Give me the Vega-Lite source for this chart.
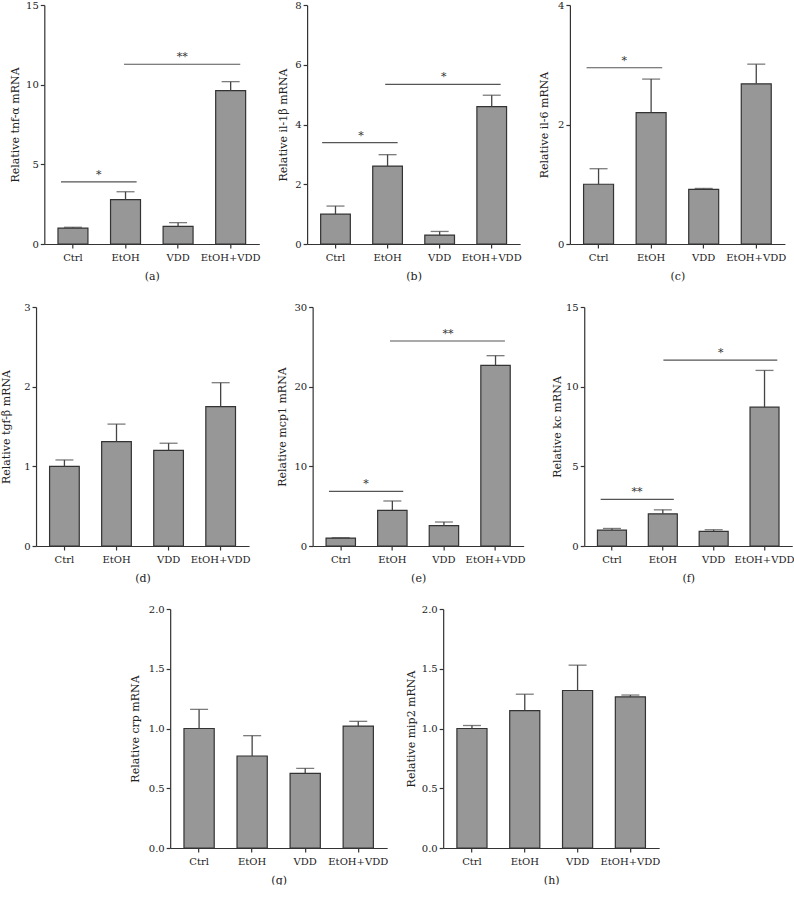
{
  "$schema": "https://vega.github.io/schema/vega-lite/v6.json",
  "background": "white",
  "padding": {"left": 0, "top": 0, "right": 0, "bottom": 0},
  "datasets": {
    "bars": [
      {"panel": "a", "group": "Ctrl", "mean": 1.0, "upper": 1.05},
      {"panel": "a", "group": "EtOH", "mean": 2.78, "upper": 3.28},
      {"panel": "a", "group": "VDD", "mean": 1.1, "upper": 1.34},
      {"panel": "a", "group": "EtOH+VDD", "mean": 9.62, "upper": 10.19},
      {"panel": "b", "group": "Ctrl", "mean": 1.0, "upper": 1.27},
      {"panel": "b", "group": "EtOH", "mean": 2.61, "upper": 2.99},
      {"panel": "b", "group": "VDD", "mean": 0.3, "upper": 0.42},
      {"panel": "b", "group": "EtOH+VDD", "mean": 4.6, "upper": 4.98},
      {"panel": "c", "group": "Ctrl", "mean": 1.0, "upper": 1.26},
      {"panel": "c", "group": "EtOH", "mean": 2.2, "upper": 2.76},
      {"panel": "c", "group": "VDD", "mean": 0.915, "upper": 0.93},
      {"panel": "c", "group": "EtOH+VDD", "mean": 2.68, "upper": 3.01},
      {"panel": "d", "group": "Ctrl", "mean": 1.0, "upper": 1.08},
      {"panel": "d", "group": "EtOH", "mean": 1.31, "upper": 1.53},
      {"panel": "d", "group": "VDD", "mean": 1.2, "upper": 1.29},
      {"panel": "d", "group": "EtOH+VDD", "mean": 1.75, "upper": 2.05},
      {"panel": "e", "group": "Ctrl", "mean": 1.0, "upper": 1.05},
      {"panel": "e", "group": "EtOH", "mean": 4.48, "upper": 5.65},
      {"panel": "e", "group": "VDD", "mean": 2.55, "upper": 3.01},
      {"panel": "e", "group": "EtOH+VDD", "mean": 22.68, "upper": 23.89},
      {"panel": "f", "group": "Ctrl", "mean": 1.0, "upper": 1.1},
      {"panel": "f", "group": "EtOH", "mean": 2.02, "upper": 2.27},
      {"panel": "f", "group": "VDD", "mean": 0.92, "upper": 1.02},
      {"panel": "f", "group": "EtOH+VDD", "mean": 8.71, "upper": 11.02},
      {"panel": "g", "group": "Ctrl", "mean": 1.0, "upper": 1.16},
      {"panel": "g", "group": "EtOH", "mean": 0.77, "upper": 0.94},
      {"panel": "g", "group": "VDD", "mean": 0.625, "upper": 0.667},
      {"panel": "g", "group": "EtOH+VDD", "mean": 1.02, "upper": 1.06},
      {"panel": "h", "group": "Ctrl", "mean": 1.0, "upper": 1.025},
      {"panel": "h", "group": "EtOH", "mean": 1.15, "upper": 1.287},
      {"panel": "h", "group": "VDD", "mean": 1.318, "upper": 1.53},
      {"panel": "h", "group": "EtOH+VDD", "mean": 1.265, "upper": 1.28}
    ],
    "sig": [
      {"panel": "a", "type": "near", "from": "Ctrl", "to": "EtOH", "y": 3.9, "label": "*"},
      {"panel": "a", "type": "far", "from": "EtOH", "to": "EtOH+VDD", "y": 11.28, "label": "**"},
      {"panel": "b", "type": "near", "from": "Ctrl", "to": "EtOH", "y": 3.39, "label": "*"},
      {"panel": "b", "type": "far", "from": "EtOH", "to": "EtOH+VDD", "y": 5.34, "label": "*"},
      {"panel": "c", "type": "near", "from": "Ctrl", "to": "EtOH", "y": 2.95, "label": "*"},
      {"panel": "e", "type": "near", "from": "Ctrl", "to": "EtOH", "y": 6.86, "label": "*"},
      {"panel": "e", "type": "far", "from": "EtOH", "to": "EtOH+VDD", "y": 25.73, "label": "**"},
      {"panel": "f", "type": "near", "from": "Ctrl", "to": "EtOH", "y": 2.92, "label": "**"},
      {"panel": "f", "type": "far", "from": "EtOH", "to": "EtOH+VDD", "y": 11.67, "label": "*"}
    ]
  },
  "spacing": 21,
  "center": true,
  "vconcat": [
    {
      "spacing": 16.8,
      "hconcat": [
        {
          "width": 215, "height": 239,
          "data": {"name": "bars"},
          "transform": [{"filter": "datum.panel == 'a'"}],
          "encoding": {"x": {"field": "group", "type": "nominal", "scale": {"domain": ["Ctrl", "EtOH", "VDD", "EtOH+VDD"], "paddingInner": 0.43, "paddingOuter": 0.26}, "axis": {"title": "(a)", "labelAngle": 0}}},
          "layer": [
            {"mark": {"type": "bar", "fill": "#979797", "stroke": "#333333", "strokeWidth": 1.2},
             "encoding": {"y": {"field": "mean", "type": "quantitative", "scale": {"domain": [0, 15], "nice": false}, "axis": {"values": [0, 5, 10, 15], "format": "d", "titlePadding": 5, "title": "Relative tnf-α mRNA"}}}},
            {"mark": {"type": "rule", "stroke": "#444444", "strokeWidth": 1.3},
             "encoding": {"y": {"field": "mean", "type": "quantitative"}, "y2": {"field": "upper"}}},
            {"mark": {"type": "tick", "color": "#444444", "size": 18, "thickness": 1.3},
             "encoding": {"y": {"field": "upper", "type": "quantitative"}}},
            {"data": {"name": "sig"}, "transform": [{"filter": "datum.panel == 'a' && datum.type == 'near'"}],
             "mark": {"type": "rule", "stroke": "#555555", "strokeWidth": 1.2},
             "encoding": {"x": {"field": "from", "type": "nominal", "bandPosition": 0.1}, "x2": {"field": "to", "bandPosition": 0.87}, "y": {"field": "y", "type": "quantitative"}}},
            {"data": {"name": "sig"}, "transform": [{"filter": "datum.panel == 'a' && datum.type == 'near'"}],
             "mark": {"type": "text", "font": "DejaVu Serif", "fontSize": 11, "dy": -4, "baseline": "alphabetic", "fill": "#333333"},
             "encoding": {"x": {"field": "from", "type": "nominal", "bandPosition": 1.36}, "y": {"field": "y", "type": "quantitative"}, "text": {"field": "label"}}},
            {"data": {"name": "sig"}, "transform": [{"filter": "datum.panel == 'a' && datum.type == 'far'"}],
             "mark": {"type": "rule", "stroke": "#555555", "strokeWidth": 1.2},
             "encoding": {"x": {"field": "from", "type": "nominal", "bandPosition": 0.45}, "x2": {"field": "to", "bandPosition": 0.82}, "y": {"field": "y", "type": "quantitative"}}},
            {"data": {"name": "sig"}, "transform": [{"filter": "datum.panel == 'a' && datum.type == 'far'"}],
             "mark": {"type": "text", "font": "DejaVu Serif", "fontSize": 11, "dy": -4, "baseline": "alphabetic", "fill": "#333333"},
             "encoding": {"x": {"field": "from", "type": "nominal", "bandPosition": 2.39}, "y": {"field": "y", "type": "quantitative"}, "text": {"field": "label"}}}
          ]
        },
        {
          "width": 213, "height": 239,
          "data": {"name": "bars"},
          "transform": [{"filter": "datum.panel == 'b'"}],
          "encoding": {"x": {"field": "group", "type": "nominal", "scale": {"domain": ["Ctrl", "EtOH", "VDD", "EtOH+VDD"], "paddingInner": 0.43, "paddingOuter": 0.26}, "axis": {"title": "(b)", "labelAngle": 0}}},
          "layer": [
            {"mark": {"type": "bar", "fill": "#979797", "stroke": "#333333", "strokeWidth": 1.2},
             "encoding": {"y": {"field": "mean", "type": "quantitative", "scale": {"domain": [0, 8], "nice": false}, "axis": {"values": [0, 2, 4, 6, 8], "format": "d", "titlePadding": 6, "title": "Relative il-1β mRNA"}}}},
            {"mark": {"type": "rule", "stroke": "#444444", "strokeWidth": 1.3},
             "encoding": {"y": {"field": "mean", "type": "quantitative"}, "y2": {"field": "upper"}}},
            {"mark": {"type": "tick", "color": "#444444", "size": 18, "thickness": 1.3},
             "encoding": {"y": {"field": "upper", "type": "quantitative"}}},
            {"data": {"name": "sig"}, "transform": [{"filter": "datum.panel == 'b' && datum.type == 'near'"}],
             "mark": {"type": "rule", "stroke": "#555555", "strokeWidth": 1.2},
             "encoding": {"x": {"field": "from", "type": "nominal", "bandPosition": 0.05}, "x2": {"field": "to", "bandPosition": 0.84}, "y": {"field": "y", "type": "quantitative"}}},
            {"data": {"name": "sig"}, "transform": [{"filter": "datum.panel == 'b' && datum.type == 'near'"}],
             "mark": {"type": "text", "font": "DejaVu Serif", "fontSize": 11, "dy": -4, "baseline": "alphabetic", "fill": "#333333"},
             "encoding": {"x": {"field": "from", "type": "nominal", "bandPosition": 1.36}, "y": {"field": "y", "type": "quantitative"}, "text": {"field": "label"}}},
            {"data": {"name": "sig"}, "transform": [{"filter": "datum.panel == 'b' && datum.type == 'far'"}],
             "mark": {"type": "rule", "stroke": "#555555", "strokeWidth": 1.2},
             "encoding": {"x": {"field": "from", "type": "nominal", "bandPosition": 0.42}, "x2": {"field": "to", "bandPosition": 0.8}, "y": {"field": "y", "type": "quantitative"}}},
            {"data": {"name": "sig"}, "transform": [{"filter": "datum.panel == 'b' && datum.type == 'far'"}],
             "mark": {"type": "text", "font": "DejaVu Serif", "fontSize": 11, "dy": -4, "baseline": "alphabetic", "fill": "#333333"},
             "encoding": {"x": {"field": "from", "type": "nominal", "bandPosition": 2.39}, "y": {"field": "y", "type": "quantitative"}, "text": {"field": "label"}}}
          ]
        },
        {
          "width": 215, "height": 239,
          "data": {"name": "bars"},
          "transform": [{"filter": "datum.panel == 'c'"}],
          "encoding": {"x": {"field": "group", "type": "nominal", "scale": {"domain": ["Ctrl", "EtOH", "VDD", "EtOH+VDD"], "paddingInner": 0.43, "paddingOuter": 0.26}, "axis": {"title": "(c)", "labelAngle": 0}}},
          "layer": [
            {"mark": {"type": "bar", "fill": "#979797", "stroke": "#333333", "strokeWidth": 1.2},
             "encoding": {"y": {"field": "mean", "type": "quantitative", "scale": {"domain": [0, 4], "nice": false}, "axis": {"values": [0, 2, 4], "format": "d", "titlePadding": 7.6, "title": "Relative il-6  mRNA"}}}},
            {"mark": {"type": "rule", "stroke": "#444444", "strokeWidth": 1.3},
             "encoding": {"y": {"field": "mean", "type": "quantitative"}, "y2": {"field": "upper"}}},
            {"mark": {"type": "tick", "color": "#444444", "size": 18, "thickness": 1.3},
             "encoding": {"y": {"field": "upper", "type": "quantitative"}}},
            {"data": {"name": "sig"}, "transform": [{"filter": "datum.panel == 'c' && datum.type == 'near'"}],
             "mark": {"type": "rule", "stroke": "#555555", "strokeWidth": 1.2},
             "encoding": {"x": {"field": "from", "type": "nominal", "bandPosition": 0.1}, "x2": {"field": "to", "bandPosition": 0.87}, "y": {"field": "y", "type": "quantitative"}}},
            {"data": {"name": "sig"}, "transform": [{"filter": "datum.panel == 'c' && datum.type == 'near'"}],
             "mark": {"type": "text", "font": "DejaVu Serif", "fontSize": 11, "dy": -4, "baseline": "alphabetic", "fill": "#333333"},
             "encoding": {"x": {"field": "from", "type": "nominal", "bandPosition": 1.36}, "y": {"field": "y", "type": "quantitative"}, "text": {"field": "label"}}}
          ]
        }
      ]
    },
    {
      "spacing": 25.6,
      "hconcat": [
        {
          "width": 213, "height": 239,
          "data": {"name": "bars"},
          "transform": [{"filter": "datum.panel == 'd'"}],
          "encoding": {"x": {"field": "group", "type": "nominal", "scale": {"domain": ["Ctrl", "EtOH", "VDD", "EtOH+VDD"], "paddingInner": 0.43, "paddingOuter": 0.26}, "axis": {"title": "(d)", "labelAngle": 0}}},
          "layer": [
            {"mark": {"type": "bar", "fill": "#979797", "stroke": "#333333", "strokeWidth": 1.2},
             "encoding": {"y": {"field": "mean", "type": "quantitative", "scale": {"domain": [0, 3], "nice": false}, "axis": {"values": [0, 1, 2, 3], "format": "d", "titlePadding": 12.5, "title": "Relative tgf-β mRNA"}}}},
            {"mark": {"type": "rule", "stroke": "#444444", "strokeWidth": 1.3},
             "encoding": {"y": {"field": "mean", "type": "quantitative"}, "y2": {"field": "upper"}}},
            {"mark": {"type": "tick", "color": "#444444", "size": 18, "thickness": 1.3},
             "encoding": {"y": {"field": "upper", "type": "quantitative"}}}
          ]
        },
        {
          "width": 211, "height": 239,
          "data": {"name": "bars"},
          "transform": [{"filter": "datum.panel == 'e'"}],
          "encoding": {"x": {"field": "group", "type": "nominal", "scale": {"domain": ["Ctrl", "EtOH", "VDD", "EtOH+VDD"], "paddingInner": 0.43, "paddingOuter": 0.26}, "axis": {"title": "(e)", "labelAngle": 0}}},
          "layer": [
            {"mark": {"type": "bar", "fill": "#979797", "stroke": "#333333", "strokeWidth": 1.2},
             "encoding": {"y": {"field": "mean", "type": "quantitative", "scale": {"domain": [0, 30], "nice": false}, "axis": {"values": [0, 10, 20, 30], "format": "d", "titlePadding": 6, "title": "Relative mcp1 mRNA"}}}},
            {"mark": {"type": "rule", "stroke": "#444444", "strokeWidth": 1.3},
             "encoding": {"y": {"field": "mean", "type": "quantitative"}, "y2": {"field": "upper"}}},
            {"mark": {"type": "tick", "color": "#444444", "size": 18, "thickness": 1.3},
             "encoding": {"y": {"field": "upper", "type": "quantitative"}}},
            {"data": {"name": "sig"}, "transform": [{"filter": "datum.panel == 'e' && datum.type == 'near'"}],
             "mark": {"type": "rule", "stroke": "#555555", "strokeWidth": 1.2},
             "encoding": {"x": {"field": "from", "type": "nominal", "bandPosition": 0.1}, "x2": {"field": "to", "bandPosition": 0.87}, "y": {"field": "y", "type": "quantitative"}}},
            {"data": {"name": "sig"}, "transform": [{"filter": "datum.panel == 'e' && datum.type == 'near'"}],
             "mark": {"type": "text", "font": "DejaVu Serif", "fontSize": 11, "dy": -4, "baseline": "alphabetic", "fill": "#333333"},
             "encoding": {"x": {"field": "from", "type": "nominal", "bandPosition": 1.36}, "y": {"field": "y", "type": "quantitative"}, "text": {"field": "label"}}},
            {"data": {"name": "sig"}, "transform": [{"filter": "datum.panel == 'e' && datum.type == 'far'"}],
             "mark": {"type": "rule", "stroke": "#555555", "strokeWidth": 1.2},
             "encoding": {"x": {"field": "from", "type": "nominal", "bandPosition": 0.42}, "x2": {"field": "to", "bandPosition": 0.82}, "y": {"field": "y", "type": "quantitative"}}},
            {"data": {"name": "sig"}, "transform": [{"filter": "datum.panel == 'e' && datum.type == 'far'"}],
             "mark": {"type": "text", "font": "DejaVu Serif", "fontSize": 11, "dy": -4, "baseline": "alphabetic", "fill": "#333333"},
             "encoding": {"x": {"field": "from", "type": "nominal", "bandPosition": 2.39}, "y": {"field": "y", "type": "quantitative"}, "text": {"field": "label"}}}
          ]
        },
        {
          "width": 208, "height": 239,
          "data": {"name": "bars"},
          "transform": [{"filter": "datum.panel == 'f'"}],
          "encoding": {"x": {"field": "group", "type": "nominal", "scale": {"domain": ["Ctrl", "EtOH", "VDD", "EtOH+VDD"], "paddingInner": 0.43, "paddingOuter": 0.26}, "axis": {"title": "(f)", "labelAngle": 0}}},
          "layer": [
            {"mark": {"type": "bar", "fill": "#979797", "stroke": "#333333", "strokeWidth": 1.2},
             "encoding": {"y": {"field": "mean", "type": "quantitative", "scale": {"domain": [0, 15], "nice": false}, "axis": {"values": [0, 5, 10, 15], "format": "d", "titlePadding": 2.8, "title": "Relative kc mRNA"}}}},
            {"mark": {"type": "rule", "stroke": "#444444", "strokeWidth": 1.3},
             "encoding": {"y": {"field": "mean", "type": "quantitative"}, "y2": {"field": "upper"}}},
            {"mark": {"type": "tick", "color": "#444444", "size": 18, "thickness": 1.3},
             "encoding": {"y": {"field": "upper", "type": "quantitative"}}},
            {"data": {"name": "sig"}, "transform": [{"filter": "datum.panel == 'f' && datum.type == 'near'"}],
             "mark": {"type": "rule", "stroke": "#555555", "strokeWidth": 1.2},
             "encoding": {"x": {"field": "from", "type": "nominal", "bandPosition": 0.11}, "x2": {"field": "to", "bandPosition": 0.88}, "y": {"field": "y", "type": "quantitative"}}},
            {"data": {"name": "sig"}, "transform": [{"filter": "datum.panel == 'f' && datum.type == 'near'"}],
             "mark": {"type": "text", "font": "DejaVu Serif", "fontSize": 11, "dy": -4, "baseline": "alphabetic", "fill": "#333333"},
             "encoding": {"x": {"field": "from", "type": "nominal", "bandPosition": 1.36}, "y": {"field": "y", "type": "quantitative"}, "text": {"field": "label"}}},
            {"data": {"name": "sig"}, "transform": [{"filter": "datum.panel == 'f' && datum.type == 'far'"}],
             "mark": {"type": "rule", "stroke": "#555555", "strokeWidth": 1.2},
             "encoding": {"x": {"field": "from", "type": "nominal", "bandPosition": 0.52}, "x2": {"field": "to", "bandPosition": 0.94}, "y": {"field": "y", "type": "quantitative"}}},
            {"data": {"name": "sig"}, "transform": [{"filter": "datum.panel == 'f' && datum.type == 'far'"}],
             "mark": {"type": "text", "font": "DejaVu Serif", "fontSize": 11, "dy": -4, "baseline": "alphabetic", "fill": "#333333"},
             "encoding": {"x": {"field": "from", "type": "nominal", "bandPosition": 2.5}, "y": {"field": "y", "type": "quantitative"}, "text": {"field": "label"}}}
          ]
        }
      ]
    },
    {
      "spacing": 17,
      "hconcat": [
        {
          "width": 217, "height": 239,
          "data": {"name": "bars"},
          "transform": [{"filter": "datum.panel == 'g'"}],
          "encoding": {"x": {"field": "group", "type": "nominal", "scale": {"domain": ["Ctrl", "EtOH", "VDD", "EtOH+VDD"], "paddingInner": 0.43, "paddingOuter": 0.26}, "axis": {"title": "(g)", "labelAngle": 0}}},
          "layer": [
            {"mark": {"type": "bar", "fill": "#979797", "stroke": "#333333", "strokeWidth": 1.2},
             "encoding": {"y": {"field": "mean", "type": "quantitative", "scale": {"domain": [0, 2], "nice": false}, "axis": {"values": [0, 0.5, 1, 1.5, 2], "format": ".1f", "titlePadding": 8, "title": "Relative crp mRNA"}}}},
            {"mark": {"type": "rule", "stroke": "#444444", "strokeWidth": 1.3},
             "encoding": {"y": {"field": "mean", "type": "quantitative"}, "y2": {"field": "upper"}}},
            {"mark": {"type": "tick", "color": "#444444", "size": 18, "thickness": 1.3},
             "encoding": {"y": {"field": "upper", "type": "quantitative"}}}
          ]
        },
        {
          "width": 216, "height": 239,
          "data": {"name": "bars"},
          "transform": [{"filter": "datum.panel == 'h'"}],
          "encoding": {"x": {"field": "group", "type": "nominal", "scale": {"domain": ["Ctrl", "EtOH", "VDD", "EtOH+VDD"], "paddingInner": 0.43, "paddingOuter": 0.26}, "axis": {"title": "(h)", "labelAngle": 0}}},
          "layer": [
            {"mark": {"type": "bar", "fill": "#979797", "stroke": "#333333", "strokeWidth": 1.2},
             "encoding": {"y": {"field": "mean", "type": "quantitative", "scale": {"domain": [0, 2], "nice": false}, "axis": {"values": [0, 0.5, 1, 1.5, 2], "format": ".1f", "titlePadding": 5, "title": "Relative mip2 mRNA"}}}},
            {"mark": {"type": "rule", "stroke": "#444444", "strokeWidth": 1.3},
             "encoding": {"y": {"field": "mean", "type": "quantitative"}, "y2": {"field": "upper"}}},
            {"mark": {"type": "tick", "color": "#444444", "size": 18, "thickness": 1.3},
             "encoding": {"y": {"field": "upper", "type": "quantitative"}}}
          ]
        }
      ]
    }
  ],
  "config": {
    "view": {"stroke": null},
    "font": "DejaVu Serif",
    "axis": {
      "labelFont": "DejaVu Serif", "titleFont": "DejaVu Serif",
      "labelFontSize": 10, "titleFontSize": 11, "titleFontWeight": "normal",
      "labelColor": "#222222", "titleColor": "#222222",
      "domainColor": "#333333", "tickColor": "#333333",
      "domainWidth": 1.2, "tickWidth": 1.2, "tickSize": 4, "grid": false
    },
    "axisX": {"labelPadding": 4, "titlePadding": 8, "titleFontSize": 11},
    "axisY": {"labelPadding": 2}
  }
}
